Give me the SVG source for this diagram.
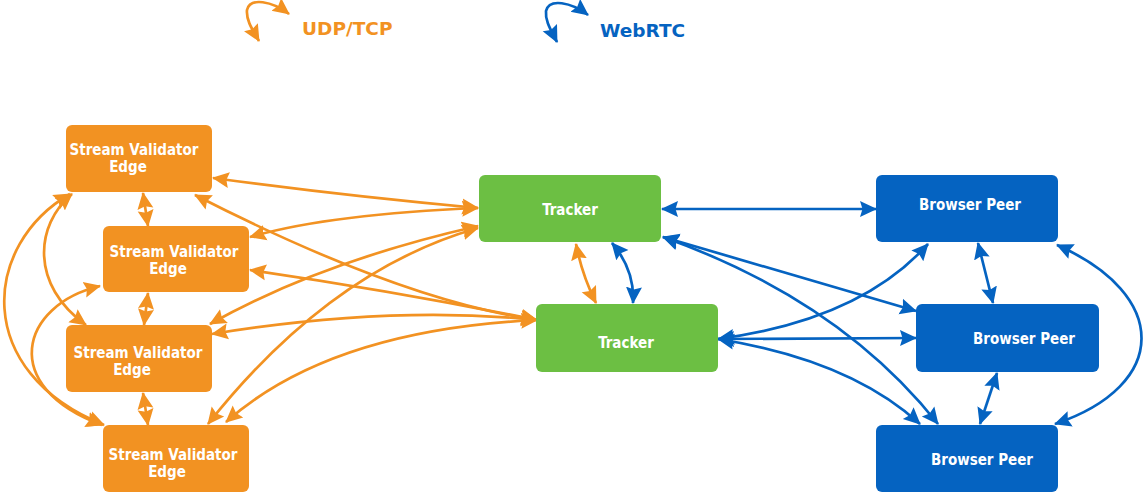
<svg xmlns="http://www.w3.org/2000/svg" width="1144" height="494" viewBox="0 0 1144 494">
<defs>
<marker id="ao" markerUnits="userSpaceOnUse" markerWidth="18" markerHeight="18" refX="16" refY="9" orient="auto-start-reverse" viewBox="0 0 18 18"><path d="M0,1 L17,9 L0,17 L2.5,9 z" fill="#F29222"/></marker>
<marker id="ab" markerUnits="userSpaceOnUse" markerWidth="18" markerHeight="18" refX="16" refY="9" orient="auto-start-reverse" viewBox="0 0 18 18"><path d="M0,1 L17,9 L0,17 L2.5,9 z" fill="#0563C1"/></marker>
</defs>
<style>
.o{fill:none;stroke:#F29222;stroke-width:2.7;marker-start:url(#ao);marker-end:url(#ao)}
.b{fill:none;stroke:#0563C1;stroke-width:2.7;marker-start:url(#ab);marker-end:url(#ab)}
.sve rect{fill:#F29222}
.trk rect{fill:#6CBF43}
.bp rect{fill:#0563C1}
.lbl{font-family:"DejaVu Sans Condensed","DejaVu Sans",sans-serif;font-weight:bold;font-size:15px;fill:#fff;text-anchor:middle}
.leg{font-family:"DejaVu Sans",Verdana,sans-serif;font-weight:bold;font-size:18.5px}
</style>
<g id="legend">
<path class="o" d="M289 14 C272 1, 250 -3, 247 10 C246 20, 252 29, 259 41"/>
<text class="leg" x="302" y="35" fill="#F29222">UDP/TCP</text>
<path class="b" d="M588 15 C571 2, 549 -2, 546 11 C545 21, 551 30, 557 42"/>
<text class="leg" x="600" y="37" fill="#0563C1">WebRTC</text>
</g>
<g id="connectors">
<path class="o" d="M213 178 Q345 196 478 208"/>
<path class="o" d="M250 237 Q330 214 478 208"/>
<path class="o" d="M195 195 Q400 300 537 320"/>
<path class="o" d="M250 270 Q400 292 537 320"/>
<path class="o" d="M210 324 Q320 262 478 226"/>
<path class="o" d="M208 424 Q330 270 478 228"/>
<path class="o" d="M212 334 Q390 305 537 320"/>
<path class="o" d="M226 422 Q330 330 537 320"/>
<path class="o" d="M143 193 L148 226"/>
<path class="o" d="M148 293 L144 325"/>
<path class="o" d="M143 393 L148 425"/>
<path class="o" d="M72 194 C35 225, 30 285, 86 325"/>
<path class="o" d="M70 194 C-18 245, -28 372, 104 425"/>
<path class="o" d="M100 286 C20 305, -2 387, 102 425"/>
<path class="o" d="M576 244 Q582 275 596 303"/>
<path class="b" d="M612 243 Q635 270 633 303"/>
<path class="b" d="M662 209 L876 209"/>
<path class="b" d="M663 237 L916 311"/>
<path class="b" d="M663 237 Q840 300 938 424"/>
<path class="b" d="M718 339 Q860 320 928 244"/>
<path class="b" d="M718 339 L916 338"/>
<path class="b" d="M718 339 Q850 360 920 424"/>
<path class="b" d="M978 243 L993 303"/>
<path class="b" d="M997 373 L980 424"/>
<path class="b" d="M1057 245 C1170 295, 1170 385, 1055 424"/>
</g>
<g id="sve1" class="sve"><rect x="66" y="125" width="146" height="67" rx="6"/><text class="lbl" x="134" y="155">Stream Validator</text><text class="lbl" x="128" y="172">Edge</text></g>
<g id="sve2" class="sve"><rect x="103" y="226" width="146" height="66" rx="6"/><text class="lbl" x="174" y="257">Stream Validator</text><text class="lbl" x="168" y="274">Edge</text></g>
<g id="sve3" class="sve"><rect x="66" y="325" width="146" height="67" rx="6"/><text class="lbl" x="138" y="358">Stream Validator</text><text class="lbl" x="132" y="375">Edge</text></g>
<g id="sve4" class="sve"><rect x="103" y="425" width="146" height="67" rx="6"/><text class="lbl" x="173" y="460">Stream Validator</text><text class="lbl" x="167" y="477">Edge</text></g>
<g id="tracker1" class="trk"><rect x="479" y="175" width="182" height="67" rx="6"/><text class="lbl" x="570" y="215">Tracker</text></g>
<g id="tracker2" class="trk"><rect x="536" y="304" width="182" height="68" rx="6"/><text class="lbl" x="626" y="348">Tracker</text></g>
<g id="peer1" class="bp"><rect x="876" y="175" width="182" height="67" rx="6"/><text class="lbl" x="970" y="210">Browser Peer</text></g>
<g id="peer2" class="bp"><rect x="916" y="304" width="183" height="68" rx="6"/><text class="lbl" x="1024" y="344">Browser Peer</text></g>
<g id="peer3" class="bp"><rect x="876" y="425" width="182" height="67" rx="6"/><text class="lbl" x="982" y="465">Browser Peer</text></g>
</svg>
